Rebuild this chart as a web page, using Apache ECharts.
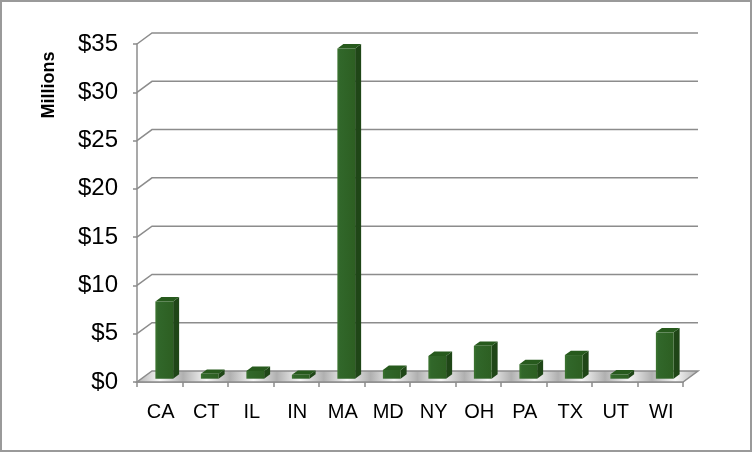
<!DOCTYPE html>
<html>
<head>
<meta charset="utf-8">
<script src="https://cdn.jsdelivr.net/npm/echarts@6/dist/echarts.min.js"></script>
<style>html,body{margin:0;padding:0;background:#fff}#c{width:753px;height:453px}</style>
</head>
<body>
<div id="c"></div>
<script>
const categories = ['CA','CT','IL','IN','MA','MD','NY','OH','PA','TX','UT','WI'];
const values = [8.0, 0.5, 0.8, 0.4, 34.2, 0.9, 2.35, 3.4, 1.5, 2.45, 0.45, 4.8];
const yTicks = [0, 5, 10, 15, 20, 25, 30, 35];

const DX = 15, DY = -11;           // depth vector of the 3D box
const D0 = 0.3, D1 = 0.7;          // bar depth range (fraction)
const FONT = '"Liberation Sans", Arial, Helvetica, sans-serif';

const chart = echarts.init(document.getElementById('c'), null, {renderer: 'canvas'});

// floor stripes gradient stops
const floorStops = [];
for (let k = 0; k <= 24; k++) {
  floorStops.push({offset: k / 24, color: k % 2 === 0 ? '#b0b0b0' : '#f6f6f6'});
}

chart.setOption({
  animation: false,
  backgroundColor: '#fff',
  grid: {left: 137, right: 70, top: 44, bottom: 71, containLabel: false},
  xAxis: {
    type: 'category',
    data: categories,
    boundaryGap: true,
    axisLine: {show: true, lineStyle: {color: '#8c8c8c', width: 1.5}},
    axisTick: {show: true, length: 5, lineStyle: {color: '#8c8c8c', width: 1.5}},
    axisLabel: {color: '#000', fontFamily: FONT, fontSize: 20, margin: 20, padding: [0, 0, 0, 2]},
    splitLine: {show: false}
  },
  yAxis: {
    type: 'value',
    min: 0, max: 35, interval: 5,
    axisLine: {show: true, lineStyle: {color: '#8c8c8c', width: 1.5}},
    axisTick: {show: true, length: 4, lineStyle: {color: '#8c8c8c', width: 1.5}},
    axisLabel: {color: '#000', fontFamily: FONT, fontSize: 24, margin: 19, formatter: v => '$' + v},
    splitLine: {show: false}
  },
  graphic: [
    {type: 'rect', shape: {x: 1, y: 1, width: 750, height: 450}, style: {fill: 'none', stroke: '#9a9a9a', lineWidth: 2}, z: 100},
    {type: 'text', x: 49, y: 85, rotation: Math.PI / 2,
     style: {text: 'Millions', font: 'bold 18px ' + FONT, fill: '#000', align: 'center', verticalAlign: 'middle'}}
  ],
  series: [
    { // back-wall gridlines with diagonal connectors
      type: 'custom',
      z: 1,
      data: yTicks.map(v => [0, v]),
      renderItem: function (params, api) {
        const cs = params.coordSys;
        const y = api.coord([0, api.value(1)])[1];
        const pts = [[cs.x, y], [cs.x + DX, y + DY], [cs.x + cs.width + DX, y + DY]];
        if (api.value(1) === 0) return null;
        return {type: 'polyline', shape: {points: pts}, style: {fill: null, stroke: '#8c8c8c', lineWidth: 1.5}};
      }
    },
    { // floor
      type: 'custom',
      z: 2,
      data: [[0, 0]],
      renderItem: function (params, api) {
        const cs = params.coordSys;
        const y = api.coord([0, 0])[1];
        const pts = [[cs.x, y], [cs.x + cs.width, y], [cs.x + cs.width + DX, y + DY], [cs.x + DX, y + DY]];
        return {type: 'polygon', shape: {points: pts},
          style: {fill: new echarts.graphic.LinearGradient(0, 0, 1, 0.15, floorStops), stroke: '#8c8c8c', lineWidth: 1.5}};
      }
    },
    { // 3D bars
      type: 'custom',
      z: 3,
      data: values.map((v, i) => [i, v]),
      renderItem: function (params, api) {
        const i = api.value(0), v = api.value(1);
        const base = api.coord([i, 0]);
        const top = api.coord([i, v]);
        const cw = api.size([1, 0])[0];
        const w = cw * 0.39;
        const ox = DX * D0, oy = DY * D0;
        const dx = DX * (D1 - D0), dy = DY * (D1 - D0);
        const x0 = base[0] - w / 2 + ox;
        const yb = base[1] + oy, yt = top[1] + oy;
        return {
          type: 'group',
          children: [
            {type: 'polygon', shape: {points: [[x0 + w, yt], [x0 + w + dx, yt + dy], [x0 + w + dx, yb + dy], [x0 + w, yb]]},
             style: {fill: '#1f4617'}},
            {type: 'polygon', shape: {points: [[x0, yt], [x0 + w, yt], [x0 + w + dx, yt + dy], [x0 + dx, yt + dy]]},
             style: {fill: '#275a1d'}},
            {type: 'rect', shape: {x: x0, y: yt, width: w, height: yb - yt},
             style: {fill: new echarts.graphic.LinearGradient(0, 0, 1, 0, [
               {offset: 0, color: '#3c7430'}, {offset: 0.15, color: '#31672a'}, {offset: 1, color: '#2d5f22'}])}}
          ]
        };
      }
    }
  ]
});
</script>
</body>
</html>
